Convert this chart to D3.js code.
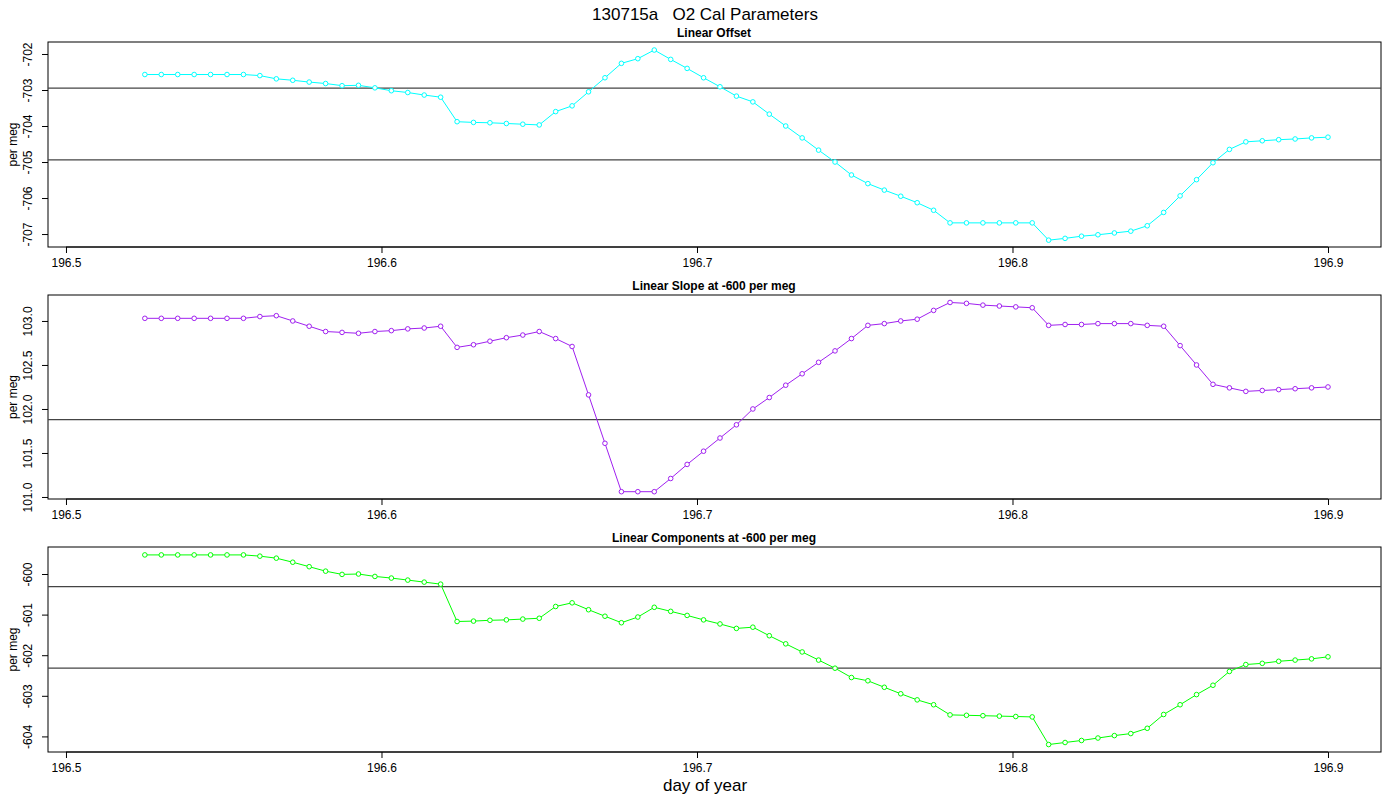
<!DOCTYPE html>
<html><head><meta charset="utf-8">
<script src="https://cdn.jsdelivr.net/npm/d3@7"></script>
<style>body{margin:0;background:#fff}svg{font-family:"Liberation Sans",Arial,sans-serif}</style>
</head><body><svg id="c" width="1400" height="800"></svg>
<script>
const mainTitle = "130715a   O2 Cal Parameters";
const xLabel = "day of year";
const yLabel = "per meg";
const xStart = 196.525, xStep = 0.375/72;
const xTicks = [196.5, 196.6, 196.7, 196.8, 196.9];

const panelTitles = ["Linear Offset", "Linear Slope at -600 per meg", "Linear Components at -600 per meg"];
const panelColors = ["#00FFFF", "#A020F0", "#00FF00"];

const offsetVals = [-702.57,-702.57,-702.57,-702.57,-702.57,-702.57,-702.57,-702.60,-702.69,-702.73,-702.78,-702.82,-702.88,-702.87,-702.94,-703.02,-703.07,-703.14,-703.20,
 -703.88,-703.90,-703.91,-703.93,-703.95,-703.97,-703.60,-703.44,-703.05,-702.66,-702.26,-702.13,-701.89,-702.15,-702.40,-702.66,-702.91,-703.17,
 -703.33,-703.67,-704.00,-704.33,-704.67,-705.00,-705.36,-705.60,-705.78,-705.95,-706.13,-706.34,-706.69,-706.69,-706.69,-706.69,-706.69,-706.69,
 -707.17,-707.12,-707.06,-707.02,-706.97,-706.92,-706.77,-706.40,-705.94,-705.49,-705.02,-704.65,-704.44,-704.41,-704.38,-704.36,-704.33,-704.31];
const slopeVals = [103.03,103.03,103.03,103.03,103.03,103.03,103.03,103.05,103.06,103.00,102.94,102.88,102.87,102.86,102.88,102.89,102.91,102.92,102.94,
 102.70,102.73,102.77,102.81,102.84,102.88,102.80,102.71,102.16,101.61,101.06,101.06,101.06,101.21,101.37,101.52,101.67,101.82,
 102.00,102.13,102.27,102.40,102.53,102.66,102.80,102.95,102.97,103.00,103.02,103.12,103.21,103.20,103.18,103.17,103.16,103.15,
 102.95,102.96,102.96,102.97,102.97,102.97,102.95,102.94,102.72,102.50,102.28,102.24,102.20,102.21,102.22,102.23,102.24,102.25];
const compVals = [-599.53,-599.53,-599.53,-599.53,-599.53,-599.53,-599.53,-599.56,-599.61,-599.71,-599.82,-599.93,-600.01,-600.00,-600.06,-600.10,-600.15,-600.20,-600.25,
 -601.17,-601.16,-601.14,-601.13,-601.11,-601.09,-600.80,-600.71,-600.88,-601.04,-601.20,-601.06,-600.82,-600.92,-601.02,-601.13,-601.23,-601.34,
 -601.31,-601.52,-601.72,-601.92,-602.12,-602.32,-602.55,-602.63,-602.79,-602.95,-603.10,-603.22,-603.47,-603.48,-603.49,-603.50,-603.51,-603.52,
 -604.20,-604.15,-604.10,-604.04,-603.98,-603.93,-603.80,-603.46,-603.22,-602.97,-602.74,-602.40,-602.23,-602.20,-602.15,-602.12,-602.09,-602.04];
const offsetRefs = [-702.95, -704.94];
const slopeRefs = [101.88];
const compRefs = [-600.31, -602.32];
const offsetTicks = [-702,-703,-704,-705,-706,-707];
const slopeTicks = [101.0,101.5,102.0,102.5,103.0];
const compTicks = [-600,-601,-602,-603,-604];

const hy = f => d => f(d).replace("\u2212", "-");
const panels = [
 {vals: offsetVals, refs: offsetRefs, ticks: offsetTicks, dom: [-707.36, -701.667], top: 42, bot: 247, fmt: hy(d3.format("d"))},
 {vals: slopeVals, refs: slopeRefs, ticks: slopeTicks, dom: [100.977, 103.295], top: 295, bot: 499, fmt: hy(d3.format(".1f"))},
 {vals: compVals, refs: compRefs, ticks: compTicks, dom: [-604.384, -599.335], top: 547, bot: 752, fmt: hy(d3.format("d"))}
];

const svg = d3.select("#c");
const L = 48, R = 1381;
const x = d3.scaleLinear().domain([196.4943, 196.9168]).range([L, R]);

svg.append("text").attr("x", 705).attr("y", 20).attr("text-anchor","middle").attr("font-size", 17)
  .style("white-space","pre").attr("xml:space","preserve").text(mainTitle);
svg.append("text").attr("x", 705).attr("y", 791).attr("text-anchor","middle").attr("font-size", 17).text(xLabel);

panels.forEach((p, i) => {
  const y = d3.scaleLinear().domain(p.dom).range([p.bot, p.top]);
  const g = svg.append("g");
  g.append("text").attr("x", 714).attr("y", p.top - 5).attr("text-anchor","middle")
    .attr("font-size", 12).attr("font-weight","bold").text(panelTitles[i]);
  g.append("text").attr("transform", `translate(17,${(p.top+p.bot)/2}) rotate(-90)`)
    .attr("text-anchor","middle").attr("font-size", 12).text(yLabel);
  const xa = g.append("g").attr("transform", `translate(0,${p.bot})`)
    .call(d3.axisBottom(x).tickValues(xTicks).tickSize(6).tickFormat(d3.format(".1f")));
  xa.select(".domain").attr("d", `M${x(196.5)},0H${x(196.9)}`);
  xa.selectAll("text").attr("font-size", 12).attr("dy","0.9em").attr("font-family","Liberation Sans, Arial");
  const ya = g.append("g").attr("transform", `translate(${L},0)`)
    .call(d3.axisLeft(y).tickValues(p.ticks).tickSize(6).tickFormat(p.fmt));
  ya.select(".domain").remove();
  ya.selectAll(".tick text").attr("x", 0).attr("dy", 0).attr("font-size", 12)
    .attr("font-family","Liberation Sans, Arial")
    .attr("text-anchor","middle")
    .attr("transform", "translate(-16,0) rotate(-90)");
  g.append("rect").attr("x", L).attr("y", p.top).attr("width", R - L).attr("height", p.bot - p.top)
    .attr("fill","none").attr("stroke","#000").attr("stroke-width",1);
  g.selectAll(".ref").data(p.refs).join("line").attr("x1", L).attr("x2", R)
    .attr("y1", d => y(d)).attr("y2", d => y(d)).attr("stroke","#444").attr("stroke-width",1.2);
  const pts = p.vals.map((v, k) => [xStart + k * xStep, v]);
  g.append("path").datum(pts).attr("fill","none").attr("stroke", panelColors[i]).attr("stroke-width",1)
    .attr("d", d3.line().x(d => x(d[0])).y(d => y(d[1])));
  g.selectAll("circle").data(pts).join("circle").attr("cx", d => x(d[0])).attr("cy", d => y(d[1]))
    .attr("r", 2.3).attr("fill","#fff").attr("stroke", panelColors[i]).attr("stroke-width",1);
});
</script></body></html>
